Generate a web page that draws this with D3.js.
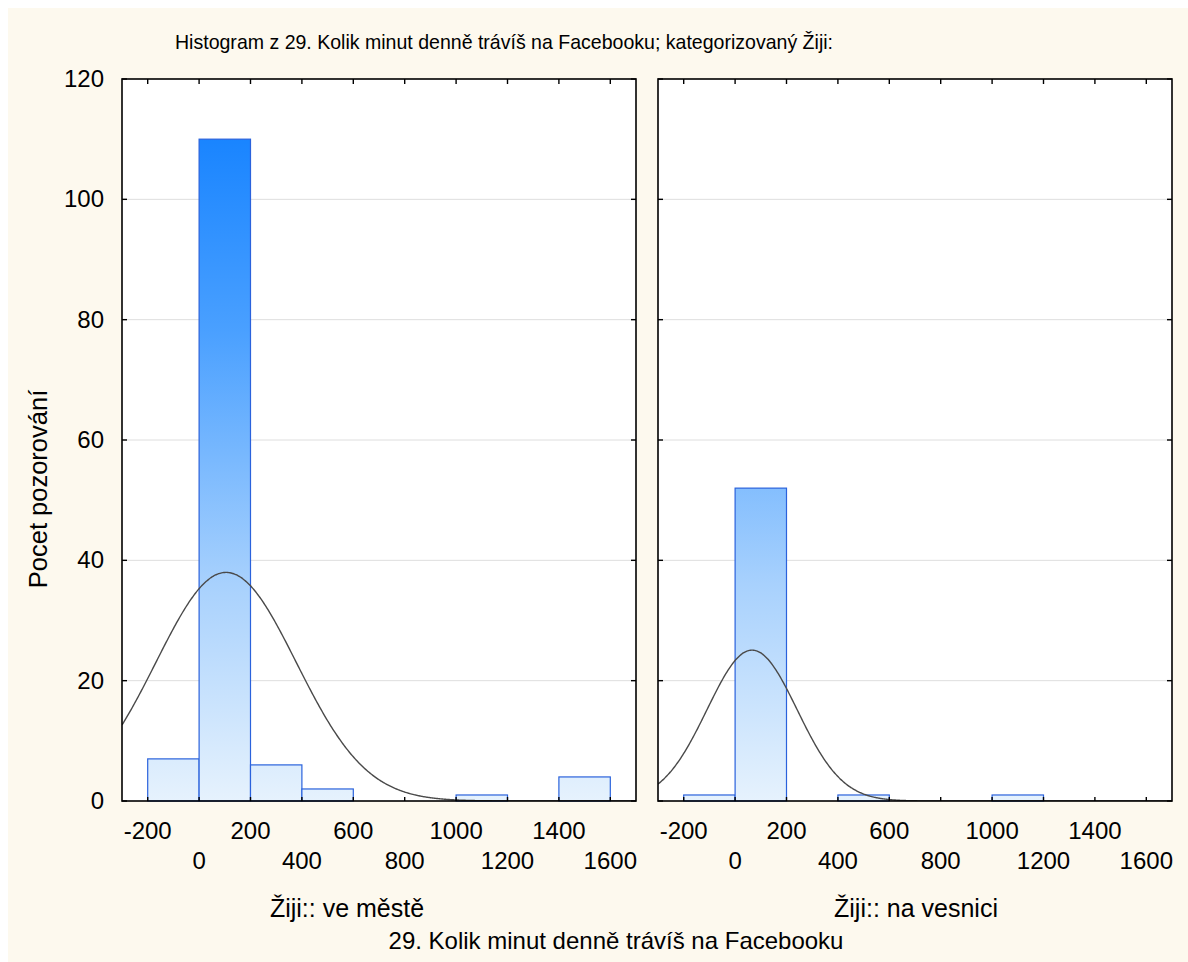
<!DOCTYPE html>
<html>
<head>
<meta charset="utf-8">
<script src="https://cdn.jsdelivr.net/npm/d3@7"></script>
<style>
  html, body { margin: 0; padding: 0; background: #ffffff; }
  svg { display: block; }
  text { font-family: "Liberation Sans", Arial, sans-serif; fill: #000; }
</style>
</head>
<body>
<svg id="chart" width="1188" height="962"></svg>
<script>
// ---------- data ----------
const binEdges = [-200, 0, 200, 400, 600, 800, 1000, 1200, 1400, 1600];
const cityCounts = [7, 110, 6, 2, 0, 0, 1, 0, 4];
const villageCounts = [1, 52, 0, 1, 0, 0, 1, 0, 0];
const xTicksTop = [-200, 200, 600, 1000, 1400];
const xTicksBottom = [0, 400, 800, 1200, 1600];
const xTicks = [-200, 0, 200, 400, 600, 800, 1000, 1200, 1400, 1600];
const yTicks = [0, 20, 40, 60, 80, 100, 120];
const panelLabels = ["Žiji:: ve městě", "Žiji:: na vesnici"];
// fitted normal curve parameters (n, mean, sd)
const cityFit = [130, 105, 273];
const villageFit = [55, 66, 175];
const titleText = "Histogram z 29. Kolik minut denně trávíš na Facebooku; kategorizovaný Žiji:";
const xAxisTitle = "29. Kolik minut denně trávíš na Facebooku";
const yAxisTitle = "Pocet pozorování";

// ---------- layout ----------
const svg = d3.select("#chart");
svg.append("rect").attr("x", 8).attr("y", 8).attr("width", 1180).attr("height", 954).attr("fill", "#fdf9ee");

const plotTop = 79, plotBottom = 801;
const panels = [
  { x0: 122, x1: 636, counts: cityCounts, fit: cityFit, label: panelLabels[0], labelX: 347 },
  { x0: 658, x1: 1172, counts: villageCounts, fit: villageFit, label: panelLabels[1], labelX: 916 }
];
const y = d3.scaleLinear().domain([0, 120]).range([plotBottom, plotTop]);

const defs = svg.append("defs");
const grad = defs.append("linearGradient").attr("id", "barGrad")
  .attr("gradientUnits", "userSpaceOnUse")
  .attr("x1", 0).attr("x2", 0).attr("y1", y(120)).attr("y2", y(0));
grad.append("stop").attr("offset", "0%").attr("stop-color", "#0a7cff");
grad.append("stop").attr("offset", "35%").attr("stop-color", "#4aa0ff");
grad.append("stop").attr("offset", "70%").attr("stop-color", "#a8d1fd");
grad.append("stop").attr("offset", "100%").attr("stop-color", "#e6f2fd");

panels.forEach((p, pi) => {
  const x = d3.scaleLinear().domain([-300, 1700]).range([p.x0, p.x1]);
  const g = svg.append("g");
  const clipId = "clip" + pi;
  defs.append("clipPath").attr("id", clipId).append("rect")
    .attr("x", p.x0).attr("y", plotTop).attr("width", p.x1 - p.x0).attr("height", plotBottom - plotTop);

  g.append("rect").attr("x", p.x0).attr("y", plotTop).attr("width", p.x1 - p.x0).attr("height", plotBottom - plotTop)
    .attr("fill", "#ffffff");

  // gridlines
  g.selectAll(".grid").data(yTicks.filter(t => t > 0 && t < 120)).enter().append("line")
    .attr("x1", p.x0).attr("x2", p.x1).attr("y1", d => y(d)).attr("y2", d => y(d))
    .attr("stroke", "#dedede").attr("stroke-width", 1);

  // bars
  const bins = p.counts.map((c, i) => ({ lo: binEdges[i], hi: binEdges[i + 1], c }));
  g.selectAll(".bar").data(bins.filter(b => b.c > 0)).enter().append("rect")
    .attr("x", d => x(d.lo)).attr("width", d => x(d.hi) - x(d.lo))
    .attr("y", d => y(d.c)).attr("height", d => y(0) - y(d.c))
    .attr("fill", "url(#barGrad)").attr("stroke", "#2a62dc").attr("stroke-width", 1.2);

  // normal curve
  const [n, mu, sd] = p.fit;
  const bw = binEdges[1] - binEdges[0];
  const xs = d3.range(-300, 1701, 4);
  const pts = xs.map(v => [v, n * bw * Math.exp(-0.5 * ((v - mu) / sd) ** 2) / (sd * Math.sqrt(2 * Math.PI))]);
  g.append("path").datum(pts)
    .attr("d", d3.line().x(d => x(d[0])).y(d => y(d[1])).curve(d3.curveBasis))
    .attr("fill", "none").attr("stroke", "#4a4a4a").attr("stroke-width", 1.4)
    .attr("clip-path", `url(#${clipId})`);

  // frame
  g.append("rect").attr("x", p.x0).attr("y", plotTop).attr("width", p.x1 - p.x0).attr("height", plotBottom - plotTop)
    .attr("fill", "none").attr("stroke", "#000").attr("stroke-width", 1.6);

  // x ticks inward (top and bottom)
  xTicks.forEach(t => {
    g.append("line").attr("x1", x(t)).attr("x2", x(t)).attr("y1", plotBottom).attr("y2", plotBottom - 4)
      .attr("stroke", "#000").attr("stroke-width", 1.4);
    g.append("line").attr("x1", x(t)).attr("x2", x(t)).attr("y1", plotTop).attr("y2", plotTop + 5)
      .attr("stroke", "#000").attr("stroke-width", 1.4);
  });
  // y ticks inward (left and right)
  yTicks.forEach(t => {
    g.append("line").attr("x1", p.x0).attr("x2", p.x0 + 5).attr("y1", y(t)).attr("y2", y(t))
      .attr("stroke", "#000").attr("stroke-width", 1.4);
    g.append("line").attr("x1", p.x1).attr("x2", p.x1 - 5).attr("y1", y(t)).attr("y2", y(t))
      .attr("stroke", "#000").attr("stroke-width", 1.4);
  });

  // x tick labels (alternating rows)
  g.selectAll(".xt1").data(xTicksTop).enter().append("text")
    .attr("x", d => x(d)).attr("y", 839).attr("text-anchor", "middle")
    .attr("font-size", 24).text(d => d);
  g.selectAll(".xt2").data(xTicksBottom).enter().append("text")
    .attr("x", d => x(d)).attr("y", 869).attr("text-anchor", "middle")
    .attr("font-size", 24).text(d => d);

  // panel label
  g.append("text").attr("x", p.labelX).attr("y", 917).attr("text-anchor", "middle")
    .attr("font-size", 25).text(p.label);
});

// y tick labels (left panel only)
svg.selectAll(".yt").data(yTicks).enter().append("text")
  .attr("x", 104).attr("y", d => y(d) + 8).attr("text-anchor", "end")
  .attr("font-size", 24).text(d => d);

// titles
svg.append("text").attr("x", 504).attr("y", 49).attr("text-anchor", "middle")
  .attr("font-size", 21).attr("textLength", 658).attr("lengthAdjust", "spacingAndGlyphs")
  .text(titleText);
svg.append("text").attr("x", 616).attr("y", 949).attr("text-anchor", "middle")
  .attr("font-size", 24).text(xAxisTitle);
svg.append("text").attr("transform", "translate(47,489) rotate(-90)").attr("text-anchor", "middle")
  .attr("font-size", 25.5).text(yAxisTitle);
</script>
</body>
</html>
